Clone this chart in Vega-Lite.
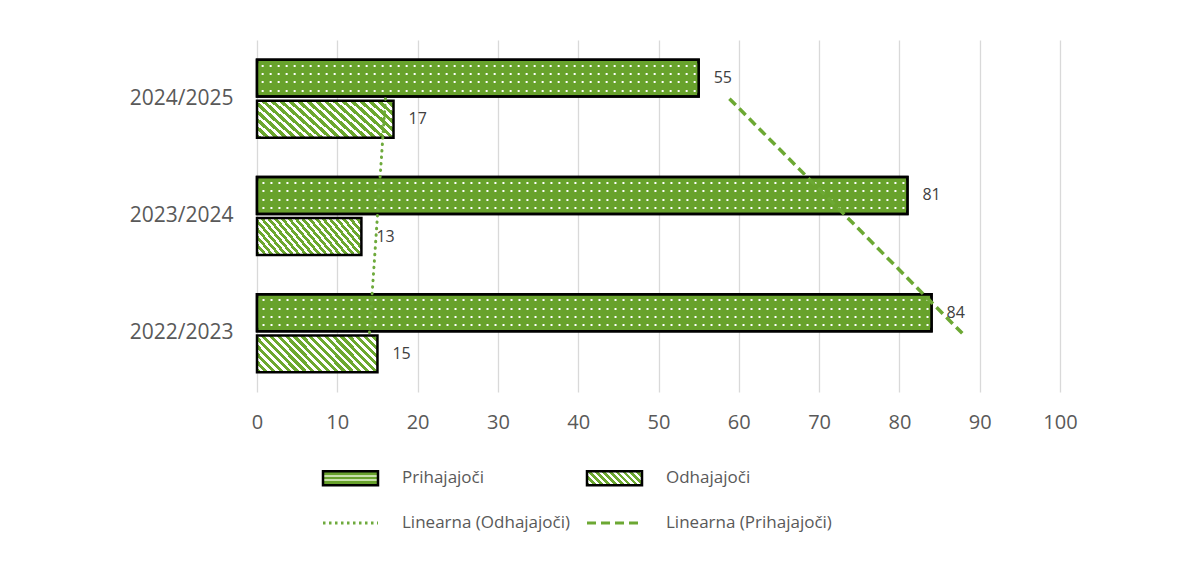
{
  "$schema": "https://vega.github.io/schema/vega-lite/v6.json",
  "width": 803,
  "height": 352,
  "autosize": {"type": "none"},
  "padding": {"left": 257, "top": 40, "right": 144, "bottom": 189},
  "background": "white",
  "config": {
    "view": {"stroke": null},
    "font": "Open Sans",
    "axisX": {"grid": true, "gridColor": "#D9D9D9", "gridWidth": 1.3, "domain": false, "ticks": false, "labelFontSize": 20, "labelColor": "#595959", "labelPadding": 20, "tickCount": 10, "labelFont": "Open Sans", "labelFlush": false},
    "axisY": {"grid": false, "domain": false, "ticks": false, "labelFontSize": 21, "labelColor": "#595959", "labelPadding": 24, "labelFont": "Open Sans"}
  },
  "datasets": {
    "bars": [
      {"year": "2024/2025", "series": "Prihajajoči", "v": 55},
      {"year": "2024/2025", "series": "Odhajajoči", "v": 17},
      {"year": "2023/2024", "series": "Prihajajoči", "v": 81},
      {"year": "2023/2024", "series": "Odhajajoči", "v": 13},
      {"year": "2022/2023", "series": "Prihajajoči", "v": 84},
      {"year": "2022/2023", "series": "Odhajajoči", "v": 15}
    ],
    "trend": [
      {"year": "2022/2023", "series": "Linearna (Odhajajoči)", "v": 14},
      {"year": "2023/2024", "series": "Linearna (Odhajajoči)", "v": 15},
      {"year": "2024/2025", "series": "Linearna (Odhajajoči)", "v": 16},
      {"year": "2022/2023", "series": "Linearna (Prihajajoči)", "v": 87.83},
      {"year": "2023/2024", "series": "Linearna (Prihajajoči)", "v": 73.33},
      {"year": "2024/2025", "series": "Linearna (Prihajajoči)", "v": 58.83}
    ]
  },
  "layer": [
    {
      "data": {"name": "bars"},
      "transform": [{"filter": "datum.series === 'Prihajajoči'"}],
      "mark": {"type": "bar", "stroke": "black", "strokeWidth": 2.5,
        "fill": {"gradient": "linear", "x1": 0, "y1": 0, "x2": 0, "y2": 1, "stops": [
          {"offset": 0, "color": "#68A22C"}, {"offset": 0.134, "color": "#68A22C"}, {"offset": 0.134, "color": "#FFFFFF"}, {"offset": 0.188, "color": "#FFFFFF"}, {"offset": 0.188, "color": "#68A22C"},
          {"offset": 0.359, "color": "#68A22C"}, {"offset": 0.359, "color": "#FFFFFF"}, {"offset": 0.413, "color": "#FFFFFF"}, {"offset": 0.413, "color": "#68A22C"},
          {"offset": 0.587, "color": "#68A22C"}, {"offset": 0.587, "color": "#FFFFFF"}, {"offset": 0.641, "color": "#FFFFFF"}, {"offset": 0.641, "color": "#68A22C"},
          {"offset": 0.812, "color": "#68A22C"}, {"offset": 0.812, "color": "#FFFFFF"}, {"offset": 0.866, "color": "#FFFFFF"}, {"offset": 0.866, "color": "#68A22C"},
          {"offset": 1, "color": "#68A22C"}
        ]}
      },
      "encoding": {
        "x": {"field": "v", "type": "quantitative", "scale": {"domain": [0, 100], "nice": false}, "title": null},
        "y": {"field": "year", "type": "nominal", "scale": {"domain": ["2024/2025", "2023/2024", "2022/2023"], "paddingInner": 0.335, "paddingOuter": 0.1675}, "title": null},
        "yOffset": {"field": "series", "type": "nominal", "scale": {"domain": ["Prihajajoči", "Odhajajoči"], "paddingInner": 0.1, "paddingOuter": 0}}
      }
    },
    {
      "data": {"name": "bars"},
      "transform": [{"filter": "datum.series === 'Prihajajoči'"}],
      "mark": {"type": "rule", "color": "#68A22C", "strokeWidth": 30, "strokeDash": [6, 2], "strokeDashOffset": 3, "strokeCap": "butt"},
      "encoding": {
        "x": {"field": "v", "type": "quantitative", "title": null},
        "x2": {"datum": 0},
        "y": {"field": "year", "type": "nominal", "title": null},
        "yOffset": {"field": "series", "type": "nominal"}
      }
    },
    {
      "data": {"name": "bars"},
      "transform": [{"filter": "datum.series === 'Prihajajoči'"}],
      "mark": {"type": "bar", "fill": "transparent", "stroke": "black", "strokeWidth": 2.5},
      "encoding": {
        "x": {"field": "v", "type": "quantitative", "title": null},
        "y": {"field": "year", "type": "nominal", "title": null},
        "yOffset": {"field": "series", "type": "nominal"}
      }
    },
    {
      "data": {"name": "bars"},
      "transform": [{"filter": "datum.series === 'Odhajajoči'"}],
      "mark": {
        "type": "bar", "stroke": "black", "strokeWidth": 2.5,
        "fill": {"gradient": "linear", "x1": 0, "y1": 1, "x2": 1.193, "y2": 0.642, "stops": [
          {"offset": 0, "color": "#6CA82F"}, {"offset": 0.0275, "color": "#6CA82F"}, {"offset": 0.0275, "color": "#FFFFFF"}, {"offset": 0.05, "color": "#FFFFFF"},
          {"offset": 0.05, "color": "#6CA82F"}, {"offset": 0.0775, "color": "#6CA82F"}, {"offset": 0.0775, "color": "#FFFFFF"}, {"offset": 0.1, "color": "#FFFFFF"},
          {"offset": 0.1, "color": "#6CA82F"}, {"offset": 0.1275, "color": "#6CA82F"}, {"offset": 0.1275, "color": "#FFFFFF"}, {"offset": 0.15, "color": "#FFFFFF"},
          {"offset": 0.15, "color": "#6CA82F"}, {"offset": 0.1775, "color": "#6CA82F"}, {"offset": 0.1775, "color": "#FFFFFF"}, {"offset": 0.2, "color": "#FFFFFF"},
          {"offset": 0.2, "color": "#6CA82F"}, {"offset": 0.2275, "color": "#6CA82F"}, {"offset": 0.2275, "color": "#FFFFFF"}, {"offset": 0.25, "color": "#FFFFFF"},
          {"offset": 0.25, "color": "#6CA82F"}, {"offset": 0.2775, "color": "#6CA82F"}, {"offset": 0.2775, "color": "#FFFFFF"}, {"offset": 0.3, "color": "#FFFFFF"},
          {"offset": 0.3, "color": "#6CA82F"}, {"offset": 0.3275, "color": "#6CA82F"}, {"offset": 0.3275, "color": "#FFFFFF"}, {"offset": 0.35, "color": "#FFFFFF"},
          {"offset": 0.35, "color": "#6CA82F"}, {"offset": 0.3775, "color": "#6CA82F"}, {"offset": 0.3775, "color": "#FFFFFF"}, {"offset": 0.4, "color": "#FFFFFF"},
          {"offset": 0.4, "color": "#6CA82F"}, {"offset": 0.4275, "color": "#6CA82F"}, {"offset": 0.4275, "color": "#FFFFFF"}, {"offset": 0.45, "color": "#FFFFFF"},
          {"offset": 0.45, "color": "#6CA82F"}, {"offset": 0.4775, "color": "#6CA82F"}, {"offset": 0.4775, "color": "#FFFFFF"}, {"offset": 0.5, "color": "#FFFFFF"},
          {"offset": 0.5, "color": "#6CA82F"}, {"offset": 0.5275, "color": "#6CA82F"}, {"offset": 0.5275, "color": "#FFFFFF"}, {"offset": 0.55, "color": "#FFFFFF"},
          {"offset": 0.55, "color": "#6CA82F"}, {"offset": 0.5775, "color": "#6CA82F"}, {"offset": 0.5775, "color": "#FFFFFF"}, {"offset": 0.6, "color": "#FFFFFF"},
          {"offset": 0.6, "color": "#6CA82F"}, {"offset": 0.6275, "color": "#6CA82F"}, {"offset": 0.6275, "color": "#FFFFFF"}, {"offset": 0.65, "color": "#FFFFFF"},
          {"offset": 0.65, "color": "#6CA82F"}, {"offset": 0.6775, "color": "#6CA82F"}, {"offset": 0.6775, "color": "#FFFFFF"}, {"offset": 0.7, "color": "#FFFFFF"},
          {"offset": 0.7, "color": "#6CA82F"}, {"offset": 0.7275, "color": "#6CA82F"}, {"offset": 0.7275, "color": "#FFFFFF"}, {"offset": 0.75, "color": "#FFFFFF"},
          {"offset": 0.75, "color": "#6CA82F"}, {"offset": 0.7775, "color": "#6CA82F"}, {"offset": 0.7775, "color": "#FFFFFF"}, {"offset": 0.8, "color": "#FFFFFF"},
          {"offset": 0.8, "color": "#6CA82F"}, {"offset": 0.8275, "color": "#6CA82F"}, {"offset": 0.8275, "color": "#FFFFFF"}, {"offset": 0.85, "color": "#FFFFFF"},
          {"offset": 0.85, "color": "#6CA82F"}, {"offset": 0.8775, "color": "#6CA82F"}, {"offset": 0.8775, "color": "#FFFFFF"}, {"offset": 0.9, "color": "#FFFFFF"},
          {"offset": 0.9, "color": "#6CA82F"}, {"offset": 0.9275, "color": "#6CA82F"}, {"offset": 0.9275, "color": "#FFFFFF"}, {"offset": 0.95, "color": "#FFFFFF"},
          {"offset": 0.95, "color": "#6CA82F"}, {"offset": 0.9775, "color": "#6CA82F"}, {"offset": 0.9775, "color": "#FFFFFF"}, {"offset": 1, "color": "#FFFFFF"}
        ]}
      },
      "encoding": {
        "x": {"field": "v", "type": "quantitative", "title": null},
        "y": {"field": "year", "type": "nominal", "title": null},
        "yOffset": {"field": "series", "type": "nominal"}
      }
    },
    {
      "data": {"name": "bars"},
      "mark": {"type": "text", "align": "left", "baseline": "middle", "dx": 15, "fontSize": 16, "color": "#404040", "font": "Open Sans"},
      "encoding": {
        "x": {"field": "v", "type": "quantitative", "title": null},
        "y": {"field": "year", "type": "nominal", "title": null},
        "yOffset": {"field": "series", "type": "nominal"},
        "text": {"field": "v", "type": "quantitative"}
      }
    },
    {
      "data": {"name": "trend"},
      "transform": [{"filter": "datum.series === 'Linearna (Odhajajoči)'"}],
      "mark": {"type": "line", "strokeWidth": 3, "strokeDash": [0.5, 6], "strokeCap": "round"},
      "encoding": {
        "x": {"field": "v", "type": "quantitative", "title": null},
        "y": {"field": "year", "type": "nominal", "title": null},
        "color": {
          "field": "series", "type": "nominal",
          "scale": {"domain": ["Prihajajoči", "Odhajajoči", "Linearna (Odhajajoči)", "Linearna (Prihajajoči)"], "range": ["#000000", "#000000", "#6EAA3C", "#6CA833"]},
          "legend": {
            "title": null, "orient": "none", "legendX": 65, "legendY": 429.5, "columns": 2, "direction": "horizontal",
            "symbolSize": 3025, "symbolOffset": 20, "rowPadding": 23, "columnPadding": 10, "labelOffset": 43, "labelLimit": 400,
            "labelFont": "Open Sans", "labelFontSize": 17, "labelColor": "#595959", "padding": 0,
            "symbolType": {"expr": "(datum.value === 'Prihajajoči' || datum.value === 'Odhajajoči') ? 'M-1,-0.255H1V0.255H-1Z' : 'stroke'"},
            "symbolStrokeWidth": {"expr": "(datum.value === 'Prihajajoči' || datum.value === 'Odhajajoči') ? 2.5 : 3"},
            "symbolDash": {"expr": "datum.value === 'Linearna (Odhajajoči)' ? [2.5, 3.5] : (datum.value === 'Linearna (Prihajajoči)' ? [9, 5] : [])"},
            "symbolFillColor": {"expr": "datum.value === 'Prihajajoči' ? {gradient: 'linear', x1: 0, y1: 0, x2: 0, y2: 1, stops: [{offset: 0, color: '#68A22C'}, {offset: 0.3, color: '#68A22C'}, {offset: 0.3, color: '#C8E0AC'}, {offset: 0.42, color: '#C8E0AC'}, {offset: 0.42, color: '#68A22C'}, {offset: 0.58, color: '#68A22C'}, {offset: 0.58, color: '#C8E0AC'}, {offset: 0.7, color: '#C8E0AC'}, {offset: 0.7, color: '#68A22C'}, {offset: 1, color: '#68A22C'}]} : (datum.value === 'Odhajajoči' ? {gradient: 'linear', x1: 0, y1: 1, x2: 1.178, y2: 0.7, stops: [{offset: 0, color: '#6CA82F'}, {offset: 0.055, color: '#6CA82F'}, {offset: 0.055, color: '#FFFFFF'}, {offset: 0.1, color: '#FFFFFF'}, {offset: 0.1, color: '#6CA82F'}, {offset: 0.155, color: '#6CA82F'}, {offset: 0.155, color: '#FFFFFF'}, {offset: 0.2, color: '#FFFFFF'}, {offset: 0.2, color: '#6CA82F'}, {offset: 0.255, color: '#6CA82F'}, {offset: 0.255, color: '#FFFFFF'}, {offset: 0.3, color: '#FFFFFF'}, {offset: 0.3, color: '#6CA82F'}, {offset: 0.355, color: '#6CA82F'}, {offset: 0.355, color: '#FFFFFF'}, {offset: 0.4, color: '#FFFFFF'}, {offset: 0.4, color: '#6CA82F'}, {offset: 0.455, color: '#6CA82F'}, {offset: 0.455, color: '#FFFFFF'}, {offset: 0.5, color: '#FFFFFF'}, {offset: 0.5, color: '#6CA82F'}, {offset: 0.555, color: '#6CA82F'}, {offset: 0.555, color: '#FFFFFF'}, {offset: 0.6, color: '#FFFFFF'}, {offset: 0.6, color: '#6CA82F'}, {offset: 0.655, color: '#6CA82F'}, {offset: 0.655, color: '#FFFFFF'}, {offset: 0.7, color: '#FFFFFF'}, {offset: 0.7, color: '#6CA82F'}, {offset: 0.755, color: '#6CA82F'}, {offset: 0.755, color: '#FFFFFF'}, {offset: 0.8, color: '#FFFFFF'}, {offset: 0.8, color: '#6CA82F'}, {offset: 0.855, color: '#6CA82F'}, {offset: 0.855, color: '#FFFFFF'}, {offset: 0.9, color: '#FFFFFF'}, {offset: 0.9, color: '#6CA82F'}, {offset: 0.955, color: '#6CA82F'}, {offset: 0.955, color: '#FFFFFF'}, {offset: 1, color: '#FFFFFF'}]} : 'transparent')"}
          }
        }
      }
    },
    {
      "data": {"name": "trend"},
      "transform": [{"filter": "datum.series === 'Linearna (Prihajajoči)'"}],
      "mark": {"type": "line", "strokeWidth": 3.5, "strokeDash": [9, 5], "strokeCap": "butt"},
      "encoding": {
        "x": {"field": "v", "type": "quantitative", "title": null},
        "y": {"field": "year", "type": "nominal", "title": null},
        "color": {"field": "series", "type": "nominal"}
      }
    }
  ]
}
